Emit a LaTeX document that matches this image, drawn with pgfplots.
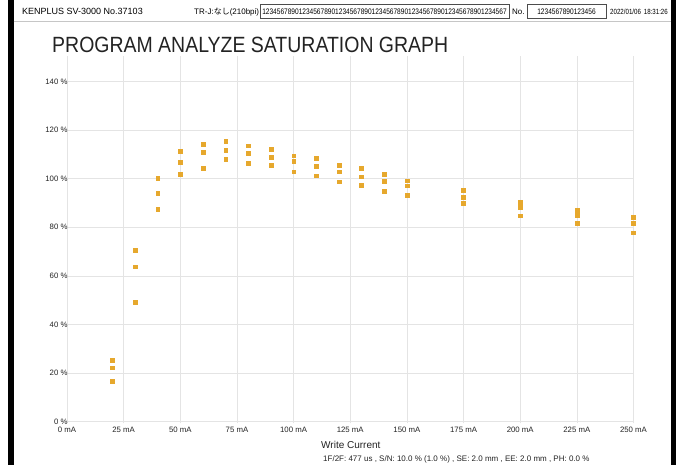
\documentclass[border=0pt]{standalone}
\usepackage{fontspec}
\setmainfont{Liberation Sans}
\newfontfamily\narrowfont[FakeStretch=0.82]{Liberation Sans}
\newfontfamily\cjk{Noto Sans CJK JP}
\usepackage{graphicx}
\usepackage{pgfplots}
\pgfplotsset{compat=1.18}

\definecolor{dotc}{RGB}{230,168,45}
\definecolor{gridc}{RGB}{228,228,228}
\definecolor{gridd}{RGB}{200,200,200}
\definecolor{txt}{RGB}{35,35,35}

\begin{document}
\begin{tikzpicture}[x=1pt,y=1pt]
\useasboundingbox (0,0) rectangle (683,465);
\fill[white] (0,0) rectangle (683,465);
% frame
\fill[black] (8,0) rectangle (13.5,465);
\fill[black] (671,0) rectangle (676,465);
\draw[gray!45, line width=0.6pt] (13.5,444) -- (671,444);

% header
\node[anchor=base west, inner sep=0, font=\fontsize{9}{10}\selectfont] at (22,450) {KENPLUS SV-3000 No.37103};
\node[anchor=base west, inner sep=0, font=\fontsize{8}{9}\selectfont] at (194,450) {TR-J:{\cjk なし}(210bpi)};
\draw[line width=0.5pt, gray!60!black] (260,446.5) rectangle (509,460.5);
\node[anchor=base, inner sep=0, font=\narrowfont\fontsize{8}{9}\selectfont] at (384.5,450) {1234567890123456789012345678901234567890123456789012345678901234567};
\node[anchor=base west, inner sep=0, font=\fontsize{8}{9}\selectfont] at (512,450) {No.};
\draw[line width=0.5pt, gray!60!black] (527,446.5) rectangle (606,460.5);
\node[anchor=base, inner sep=0, font=\narrowfont\fontsize{8}{9}\selectfont] at (566.5,450) {1234567890123456};
\node[anchor=base west, inner sep=0, font=\narrowfont\fontsize{7.5}{9}\selectfont] at (610,450) {2022/01/06};
\node[anchor=base east, inner sep=0, font=\narrowfont\fontsize{7.5}{9}\selectfont] at (668,450) {18:31:26};

% title
\node[anchor=base west, inner sep=0, text=txt] at (52,412.5) {\resizebox{396pt}{15.4pt}{PROGRAM ANALYZE SATURATION GRAPH}};

\begin{axis}[
    at={(67pt,41.6pt)}, anchor=south west,
    scale only axis,
    width=566.5pt, height=366.9pt,
    xmin=0, xmax=250,
    ymin=-0.7, ymax=150.3,
    axis line style={draw=none},
    major tick length=0pt,
    xtick={0,25,...,250},
    xticklabels={0 mA,25 mA,50 mA,75 mA,100 mA,125 mA,150 mA,175 mA,200 mA,225 mA,250 mA},
    ytick={0,20,...,140},
    yticklabels={0 \%,20 \%,40 \%,60 \%,80 \%,100 \%,120 \%,140 \%},
    extra y ticks={100},
    extra y tick labels={},
    extra y tick style={grid style={gridd, line width=0.7pt}},
    grid=major,
    major grid style={gridc, line width=0.6pt},
    tick label style={font=\fontsize{7.8}{8}\selectfont, text=txt},
    yticklabel style={xshift=4pt},
]
\addplot[only marks, mark=square*, mark size=1.9pt, color=dotc] table[x=ma, y=pct] {
ma pct
20 25.2
20 22.2
20 16.6
30 70.5
30 63.8
30 49.3
40 100.3
40 94.1
40 87.5
50 111.2
50 106.8
50 101.8
60 114.3
60 110.9
60 104.4
70 115.4
70 111.7
70 108.0
80 113.6
80 110.5
80 106.3
90 112.0
90 108.8
90 105.4
100 109.5
100 107.1
100 102.9
110 108.3
110 105.2
110 101.2
120 105.6
120 102.9
120 98.8
130 104.4
130 100.8
130 97.4
140 101.7
140 98.9
140 94.7
150 99.2
150 97.1
150 93.2
175 95.2
175 92.4
175 89.8
200 90.2
200 88.4
200 84.8
225 87.2
225 85.0
225 81.8
250 84.2
250 81.6
250 77.8
};
\end{axis}

% axis title and settings line
\node[anchor=base west, inner sep=0, font=\fontsize{10}{11}\selectfont, text=txt] at (321,16.2) {Write Current};
\node[anchor=base west, inner sep=0, font=\fontsize{8}{9}\selectfont, text=txt] at (323,3) {1F/2F: 477 us , S/N: 10.0 \% (1.0 \%) , SE: 2.0 mm , EE: 2.0 mm ,  PH: 0.0 \%};
\end{tikzpicture}
\end{document}
